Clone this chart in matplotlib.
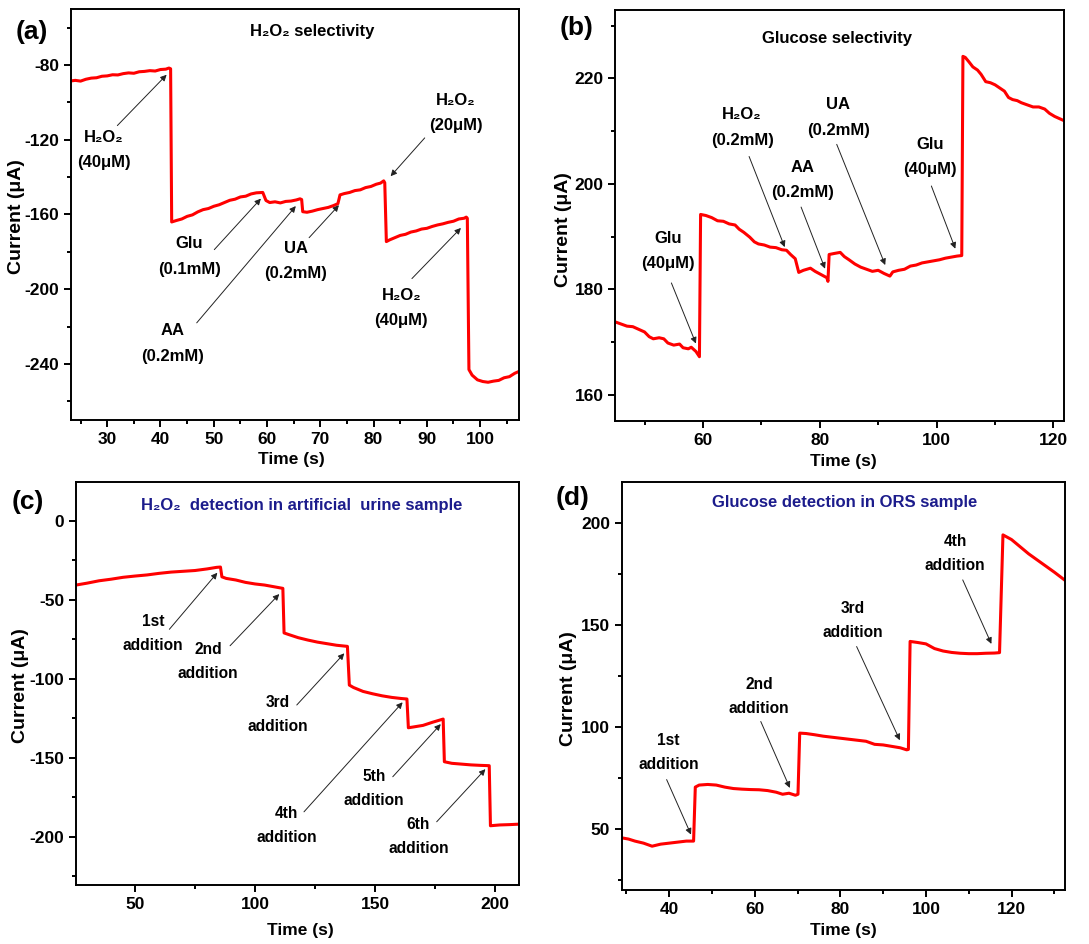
import matplotlib
matplotlib.use("Agg")
import matplotlib.pyplot as plt
from matplotlib.ticker import MultipleLocator

# ---------------- data ----------------
a_time = [23.2, 24, 25, 26, 27, 28, 29, 30, 31, 32, 33, 34, 35, 36, 37, 38, 39, 40, 41, 41.6, 41.9,
          42.1, 43, 44, 45, 46, 47, 48, 49, 50, 51, 52, 53, 54, 55, 56, 57, 58, 59.2, 59.8, 60.5,
          61.5, 62.5, 63.5, 64.5, 65.5, 66.2, 66.5, 66.7, 67.5, 68.5, 69.5, 70.5, 71.5, 72.5, 73.3,
          73.7, 74.5, 75.5, 76.5, 77.5, 78.5, 79.5, 80.5, 81.3, 81.9, 82.1, 82.4, 83, 84, 85, 86,
          87, 88, 89, 90, 91, 92, 93, 94, 95, 96, 97, 97.4, 97.6, 97.9, 98.5, 99.5, 100.5, 101.5,
          102.5, 103.5, 104.5, 105.5, 106.5, 107.3]
a_current = [-88.5, -88.2, -88.6, -87.6, -87.0, -86.8, -86.0, -85.8, -85.2, -85.3, -84.6, -84.2,
             -84.4, -83.6, -83.4, -83.0, -83.2, -82.4, -82.2, -81.6, -82.0,
             -164, -163.2, -162.4, -161.0, -160.2, -158.6, -157.4, -156.8, -155.6, -154.8, -153.6,
             -152.4, -151.8, -150.6, -150.2, -149.0, -148.4, -148.2, -152.5, -153.6,
             -153.2, -153.8, -153.0, -152.8, -152.2, -151.6, -152, -158.5, -158.8, -158.2, -157.4,
             -156.8, -156.2, -155.2, -154.2,
             -149.5, -148.8, -148.2, -147.2, -146.8, -145.6, -145.0, -143.8, -143.2, -142, -143,
             -174.5, -173.6, -172.4, -171.2, -170.6,
             -169.4, -168.8, -167.8, -167.4, -166.4, -165.6, -165.0, -164.2, -163.6, -162.4, -162.0,
             -161.4, -162, -243, -246, -248.5, -249.4, -249.8,
             -249.2, -248.8, -247.4, -246.8, -245.0, -244]

b_time = [45, 46, 47, 48, 49, 50, 50.8, 51.5, 52.5, 53.3, 54, 55, 56, 56.6, 57.5, 58, 58.8, 59.4,
          59.6, 60.5, 61.5, 62.5, 63.5, 64.5, 65.5, 66.2, 67, 68, 68.8, 69.5, 70.5, 71.5, 72.5, 73.5,
          74.3, 75, 75.8, 76.4, 77.2, 78.4, 79.2, 80.2, 81.2, 81.4, 81.6, 82.5, 83.5, 84.2, 85, 86,
          87, 88, 89, 90, 91, 92, 92.5, 93.5, 94.5, 95.5, 96.5, 97.5, 98.5, 99.5, 100.5, 101.5,
          102.5, 103.5, 104.3, 104.5, 104.9, 105.5, 106.2, 107, 107.6, 108.4, 109.2, 110, 110.8,
          111.6, 112.3, 113, 113.8, 114.5, 115.5, 116.5, 117.5, 118.5, 119.3, 120.2, 121, 121.8]
b_current = [173.8, 173.4, 173.0, 172.9, 172.4, 171.9, 171.0, 170.6, 170.8, 170.6, 169.8, 169.4,
             169.6, 168.9, 168.7, 169.0, 168.2, 167.2,
             194.2, 194.0, 193.6, 193.0, 192.9, 192.4, 192.2, 191.4, 190.8, 189.9, 189.0, 188.6,
             188.4, 188.0, 187.9, 187.5,
             187.4, 186.6, 185.8, 183.2, 183.6, 184.0, 183.4, 182.8, 182.2, 181.5, 186.6, 186.8,
             187.0, 186.2, 185.6, 184.8,
             184.2, 183.8, 183.4, 183.6, 183.0, 182.5, 183.3, 183.6, 183.8, 184.4, 184.6, 185.0,
             185.2, 185.4, 185.6, 185.9,
             186.1, 186.3, 186.4, 224.2, 224.0, 223.2, 222.2, 221.6, 220.8, 219.4, 219.2, 218.8,
             218.2,
             217.6, 216.4, 216.0, 215.8, 215.4, 215.0, 214.6, 214.6, 214.2, 213.4, 212.8, 212.4,
             212.0]

c_time = [25.4, 30, 35, 40, 45, 50, 55, 60, 65, 70, 75, 80, 84, 85.6, 86.2, 88, 92, 96, 100, 104, 108,
          111.6, 112.1, 114, 118, 122, 126, 130, 134, 138.5, 139.3, 141, 145, 149, 153, 157, 161, 163.3,
          163.9, 166, 170, 174, 178.4, 178.9, 182, 186, 190, 194, 197.6, 198.1, 202, 206, 210]
c_current = [-40.7, -39.5, -38, -37, -35.8, -35, -34.3, -33.3, -32.5, -32, -31.5, -30.5, -29.5, -29.3,
             -35.5, -36.5, -37.5, -39, -40, -40.7, -41.8, -42.8, -71, -72, -74, -75.5, -76.8, -77.8,
             -78.8, -79.5, -104, -105.5, -108, -109.5, -110.8, -111.8, -112.5, -112.8, -131, -130.5,
             -129.5, -127.5, -125.5, -152.5, -153.5, -154, -154.5, -154.8, -155, -193, -192.5, -192.3,
             -192]

d_time = [28.9, 30.5, 32, 34, 36, 38, 40, 42, 44, 45.7, 46.1, 47, 49, 51, 53, 55, 57, 59, 61, 63, 65,
          66.5, 68, 69.5, 70.1, 70.5, 72, 74, 76, 78, 80, 82, 84, 86, 88, 90, 92, 94, 95.5, 95.9, 96.3,
          98, 100, 102, 104, 106, 108, 110, 112, 114, 116, 117.2, 118.0, 120, 122, 124, 126, 128, 130,
          132.5]
d_current = [45.6, 45, 44, 43, 41.5, 42.5, 43, 43.5, 44, 44, 70.5, 71.5, 71.8, 71.5, 70.5, 69.8, 69.5,
             69.3, 69.2, 68.8, 68, 67, 67.5, 66.5, 67, 97, 96.8, 96.2, 95.5, 95, 94.5, 94, 93.5, 93,
             91.5, 91.2, 90.5, 89.8, 88.8, 89, 142, 141.5, 140.8, 138.5, 137.3, 136.6, 136.2, 136, 136,
             136.2, 136.3, 136.5, 194.3, 192, 188.5, 185, 182, 179, 176, 172]

titles = ["H₂O₂ selectivity", "Glucose selectivity",
          "H₂O₂  detection in artificial  urine sample", "Glucose detection in ORS sample"]
panel_tags = ["(a)", "(b)", "(c)", "(d)"]

# ---------------- style ----------------
FONT = ["Liberation Sans", "DejaVu Sans"]
plt.rcParams["font.family"] = FONT
plt.rcParams["font.weight"] = "bold"
plt.rcParams["axes.unicode_minus"] = False

RED = "#ff0000"
NAVY = "#1c1c8c"

fig = plt.figure(figsize=(10.89, 9.44), dpi=100)
W, H = 1089, 944


def make_ax(l, t, r, b):
    return fig.add_axes([l / W, 1 - b / H, (r - l) / W, (b - t) / H])


def style(ax, xlim, ylim, xmaj, xmin, ymaj, ymin):
    ax.set_xlim(*xlim)
    ax.set_ylim(*ylim)
    ax.xaxis.set_major_locator(MultipleLocator(xmaj))
    ax.xaxis.set_minor_locator(MultipleLocator(xmin))
    ax.yaxis.set_major_locator(MultipleLocator(ymaj))
    ax.yaxis.set_minor_locator(MultipleLocator(ymin))
    ax.tick_params(which="both", direction="out", width=1.4, top=False, right=False,
                   labelsize=12.5)
    ax.tick_params(which="major", length=5)
    ax.tick_params(which="minor", length=3)
    for s in ax.spines.values():
        s.set_linewidth(1.4)


def note(ax, text, txy, tail, tip, size=12, ls=1.85):
    ax.text(txy[0], txy[1], text, ha="center", va="center", fontsize=size,
            fontweight="bold", linespacing=ls)
    ax.annotate("", xy=tip, xytext=tail,
                arrowprops=dict(arrowstyle="-|>", color="#222222", lw=0.7,
                                mutation_scale=9, shrinkA=0, shrinkB=0))


def labels(ax, lx, ly, yx, yy):
    ax.set_xlabel("Time (s)", fontsize=12.5, fontweight="bold", va="center")
    ax.set_ylabel("Current (μA)", fontsize=14, fontweight="bold", va="center")
    ax.xaxis.set_label_coords(lx, ly)
    ax.yaxis.set_label_coords(yx, yy)


# ---------------- (a) ----------------
axa = make_ax(71, 9, 519, 420)
axa.plot(a_time, a_current, color=RED, lw=2.2)
style(axa, (23.2, 107.3), (-270, -50), 10, 5, 40, 20)
labels(axa, 0.493, -0.095, -0.121, 0.494)
axa.text(68.4, -62.1, titles[0], ha="center", va="center", fontsize=12, fontweight="bold")
note(axa, "H₂O₂\n(40μM)", (29.4, -125.6), (31.9, -112.4), (41.15, -85.2))
note(axa, "Glu\n(0.1mM)", (45.4, -182.5), (50.1, -178.8), (58.85, -151.5))
note(axa, "AA\n(0.2mM)", (42.3, -229), (46.8, -218), (65.4, -155.5))
note(axa, "UA\n(0.2mM)", (65.4, -185), (67.9, -172.4), (73.5, -155))
note(axa, "H₂O₂\n(20μM)", (95.4, -105.5), (89.6, -119), (83.2, -139.5))
note(axa, "H₂O₂\n(40μM)", (85.2, -210), (87.2, -194.3), (96.4, -167.2))

# ---------------- (b) ----------------
axb = make_ax(615.3, 10, 1064, 421)
axb.plot(b_time, b_current, color=RED, lw=2.2)
style(axb, (45, 121.8), (155, 233), 20, 10, 20, 10)
labels(axb, 0.508, -0.099, -0.116, 0.465)
axb.text(82.9, 227.6, titles[1], ha="center", va="center", fontsize=12, fontweight="bold")
note(axb, "H₂O₂\n(0.2mM)", (66.7, 210.7), (67.9, 205.2), (74.0, 188.0))
note(axb, "AA\n(0.2mM)", (77.0, 200.7), (76.8, 195.6), (80.9, 183.9))
note(axb, "UA\n(0.2mM)", (83.2, 212.6), (82.9, 207.5), (91.2, 184.6))
note(axb, "Glu\n(40μM)", (98.9, 205.1), (99.1, 199.6), (103.2, 187.7))
note(axb, "Glu\n(40μM)", (54.0, 187.2), (54.6, 181.2), (58.8, 169.7))

# ---------------- (c) ----------------
axc = make_ax(76, 481.7, 519, 885)
axc.plot(c_time, c_current, color=RED, lw=2.2)
style(axc, (25.4, 210), (-230.5, 24.7), 50, 25, 50, 25)
labels(axc, 0.506, -0.113, -0.125, 0.494)
axc.text(119.6, 9.9, titles[2], ha="center", va="center", fontsize=12, fontweight="bold",
         color=NAVY)
note(axc, "1st\naddition", (57.6, -71.1), (64.3, -68.7), (84.3, -32.9), 11.2, 1.75)
note(axc, "2nd\naddition", (80.5, -89), (89.6, -79.1), (110.1, -46.4), 11.2, 1.75)
note(axc, "3rd\naddition", (109.5, -122.5), (117.4, -116.6), (137.2, -83.9), 11.2, 1.75)
note(axc, "4th\naddition", (113.2, -192.6), (120.4, -184.2), (161.5, -114.9), 11.2, 1.75)
note(axc, "5th\naddition", (149.6, -169.6), (157.4, -162), (177.4, -128.7), 11.2, 1.75)
note(axc, "6th\naddition", (168.1, -199.8), (175.7, -190.5), (196.0, -157.2), 11.2, 1.75)

# ---------------- (d) ----------------
axd = make_ax(621.7, 481.7, 1065, 890)
axd.plot(d_time, d_current, color=RED, lw=2.2)
style(axd, (28.9, 132.5), (20, 220.4), 20, 10, 50, 25)
labels(axd, 0.5, -0.1, -0.119, 0.494)
axd.text(80.9, 210.3, titles[3], ha="center", va="center", fontsize=12, fontweight="bold",
         color=NAVY)
note(axd, "1st\naddition", (39.8, 87.5), (39.4, 74.2), (45.1, 47.2), 11.2, 1.75)
note(axd, "2nd\naddition", (61.0, 115.2), (61.4, 102.7), (68.2, 70.1), 11.2, 1.75)
note(axd, "3rd\naddition", (83.0, 152.1), (83.8, 139.5), (93.9, 93.5), 11.2, 1.75)
note(axd, "4th\naddition", (106.8, 185.1), (108.6, 172.2), (115.3, 140.8), 11.2, 1.75)

# panel tags
for tag, (px, py) in zip(panel_tags, [(32, 32), (577, 28), (28, 502), (573, 498)]):
    fig.text(px / W, 1 - py / H, tag, ha="center", va="center", fontsize=19, fontweight="bold")

fig.savefig("out.png", dpi=100)
